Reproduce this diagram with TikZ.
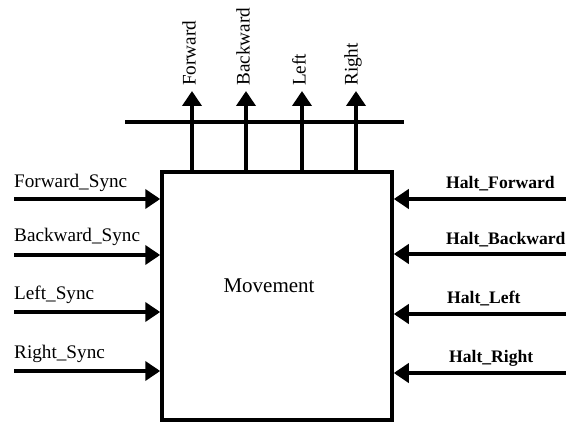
\documentclass[tikz,border=0pt]{standalone}
\usepackage{fontspec}
\setmainfont{Liberation Serif}
\usetikzlibrary{arrows.meta}
\begin{document}
\begin{tikzpicture}[x=1pt,y=-1pt,
  sig/.style={line width=4pt,-{Triangle[length=15pt,width=19pt]}},
  lbl/.style={inner sep=0pt,font=\fontsize{19.2}{22}\selectfont},
  hlbl/.style={lbl,font=\fontsize{17.6}{21}\selectfont\bfseries},
  vlbl/.style={lbl,rotate=90,anchor=west}]
\useasboundingbox (0,0) rectangle (566,422);
% main block
\node[draw,line width=3.5pt,minimum width=230pt,minimum height=248pt,inner sep=0pt]
  (mov) at (277,296) {};
\node[lbl,font=\fontsize{21}{24}\selectfont] (movlbl) at (269,286) {Movement};
% output bus line
\coordinate (busL) at (125,122);
\coordinate (busR) at (404,122);
\draw[line width=4pt] (busL) -- (busR);
% outputs on top
\foreach \x/\t/\n in {192/Forward/fw,246/Backward/bw,302/Left/lf,356/Right/rt}{
  \coordinate (o\n) at (\x,91);
  \draw[sig] (mov.north -| o\n) -- (o\n);
  \node[vlbl] (l\n) at (\x-3,86) {\t};
}
% sync inputs on the left
\foreach \y/\b/\t/\n in {199/188/Forward\_Sync/fs,255/242/Backward\_Sync/bs,312/300/Left\_Sync/ls,371/359/Right\_Sync/rs}{
  \coordinate (i\n) at (14,\y);
  \draw[sig] (i\n) -- (mov.west |- i\n);
  \node[lbl,anchor=base west] (l\n) at (14,\b) {\t};
}
% halt inputs on the right
\foreach \y/\b/\x/\t/\n in {199/189/446/Halt\_Forward/hf,254/245/446/Halt\_Backward/hb,314/304/447/Halt\_Left/hl,373/363/449/Halt\_Right/hr}{
  \coordinate (i\n) at (568,\y);
  \draw[sig] (i\n) -- (mov.east |- i\n);
  \node[hlbl,anchor=base west] (l\n) at (\x,\b) {\t};
}
\end{tikzpicture}
\end{document}
